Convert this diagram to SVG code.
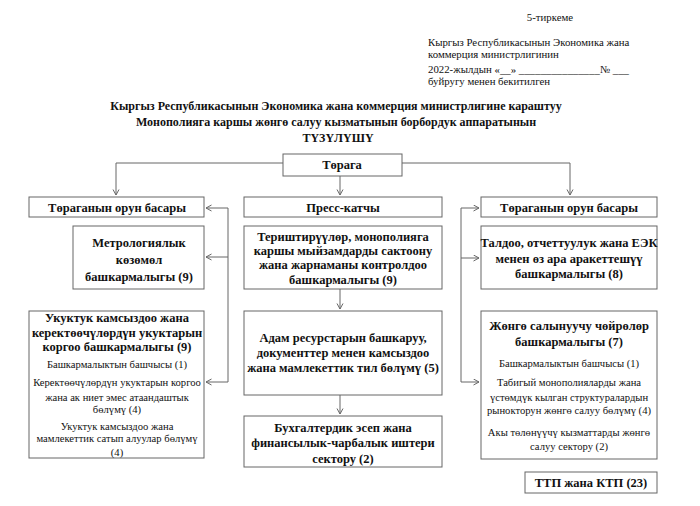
<svg xmlns="http://www.w3.org/2000/svg" width="700" height="506" viewBox="0 0 700 506">
<style>
text{font-family:"Liberation Serif","Times New Roman",serif;fill:#111}
.b{font-weight:bold;font-size:12.5px;text-anchor:middle}
.r{font-size:10.6px;text-anchor:middle}
.h{font-size:10.8px}
.t{font-weight:bold;font-size:12px;text-anchor:middle}
.box{fill:#fff;stroke:#666;stroke-width:1}
.c{fill:none;stroke:#666;stroke-width:1}
</style>
<defs>
<marker id="a" markerUnits="userSpaceOnUse" markerWidth="8" markerHeight="8" refX="6" refY="3.5" orient="auto">
<path d="M0.5,0.5 L6,3.5 L0.5,6.5" fill="none" stroke="#666" stroke-width="1"/>
</marker>
</defs>
<rect width="700" height="506" fill="#fff"/>
<g id="header">
<text class="h" x="550" y="21" text-anchor="middle">5-тиркеме</text>
<text class="h" x="428" y="46">Кыргыз Республикасынын Экономика жана</text>
<text class="h" x="428" y="58">коммерция министрлигинин</text>
<text class="h" x="428" y="73">2022-жылдын «__» _______________№ ___</text>
<text class="h" x="428" y="85">буйругу менен бекитилген</text>
<text class="t" x="336" y="110">Кыргыз Республикасынын Экономика жана коммерция министрлигине караштуу</text>
<text class="t" x="336" y="126">Монополияга каршы жөнгө салуу кызматынын борбордук аппаратынын</text>
<text class="t" x="338" y="142">ТҮЗҮЛҮШҮ</text>
</g>
<g id="connectors">
<path class="c" d="M283,163 H116 V195" marker-end="url(#a)"/>
<path class="c" d="M402,163 H570 V195" marker-end="url(#a)"/>
<path class="c" d="M340,176 V195" marker-end="url(#a)"/>
<path class="c" d="M340,289 V309" marker-end="url(#a)"/>
<path class="c" d="M340,395 V414" marker-end="url(#a)"/>
<path class="c" d="M228,208 V382"/>
<path class="c" d="M228,208 H206" marker-end="url(#a)"/>
<path class="c" d="M228,257 H206" marker-end="url(#a)"/>
<path class="c" d="M228,382 H206" marker-end="url(#a)"/>
<path class="c" d="M461,208 V382"/>
<path class="c" d="M461,208 H479" marker-end="url(#a)"/>
<path class="c" d="M461,258 H479" marker-end="url(#a)"/>
<path class="c" d="M461,382 H479" marker-end="url(#a)"/>
</g>
<g id="toraga">
<rect class="box" x="283" y="154" width="119" height="22"/>
<text class="b" x="342" y="169">Төрага</text>
</g>
<g id="orun-basar-left">
<rect class="box" x="29" y="197" width="175" height="20"/>
<text class="b" x="117" y="212">Төраганын орун басары</text>
</g>
<g id="press">
<rect class="box" x="244" y="197" width="198" height="20"/>
<text class="b" x="343" y="212">Пресс-катчы</text>
</g>
<g id="orun-basar-right">
<rect class="box" x="481" y="197" width="176" height="20"/>
<text class="b" x="569" y="212">Төраганын орун басары</text>
</g>
<g id="metrology">
<rect class="box" x="73" y="226" width="131" height="63"/>
<text class="b" x="139" y="247">Метрологиялык</text>
<text class="b" x="139" y="264">көзөмөл</text>
<text class="b" x="139" y="281">башкармалыгы (9)</text>
</g>
<g id="teristiruu">
<rect class="box" x="244" y="226" width="198" height="63"/>
<text class="b" x="343" y="241">Териштирүүлөр, монополияга</text>
<text class="b" x="343" y="255">каршы мыйзамдарды сактоону</text>
<text class="b" x="343" y="269">жана жарнаманы контролдоо</text>
<text class="b" x="343" y="284">башкармалыгы (9)</text>
</g>
<g id="taldoo">
<rect class="box" x="481" y="226" width="176" height="63"/>
<text class="b" x="569" y="247">Талдоо, отчеттуулук жана ЕЭК</text>
<text class="b" x="569" y="263">менен өз ара аракеттешүү</text>
<text class="b" x="569" y="278">башкармалыгы (8)</text>
</g>
<g id="ukuktuk">
<rect class="box" x="29" y="311" width="175" height="147"/>
<text class="b" x="117" y="322">Укуктук камсыздоо жана</text>
<text class="b" x="117" y="337">керектөөчүлөрдүн укуктарын</text>
<text class="b" x="117" y="351">коргоо башкармалыгы (9)</text>
<text class="r" x="117" y="368">Башкармалыктын башчысы (1)</text>
<text class="r" x="117" y="386">Керектөөчүлөрдүн укуктарын коргоо</text>
<text class="r" x="117" y="401">жана ак ниет эмес атаандаштык</text>
<text class="r" x="117" y="413">бөлүмү (4)</text>
<text class="r" x="117" y="430">Укуктук камсыздоо жана</text>
<text class="r" x="117" y="442">мамлекеттик сатып алуулар бөлүмү</text>
<text class="r" x="117" y="456">(4)</text>
</g>
<g id="adam">
<rect class="box" x="244" y="311" width="198" height="84"/>
<text class="b" x="343" y="342">Адам ресурстарын башкаруу,</text>
<text class="b" x="343" y="357">документтер менен камсыздоо</text>
<text class="b" x="343" y="372">жана мамлекеттик тил бөлүмү (5)</text>
</g>
<g id="jonge">
<rect class="box" x="481" y="311" width="176" height="148"/>
<text class="b" x="569" y="330">Жөнгө салынуучу чөйрөлөр</text>
<text class="b" x="569" y="346">башкармалыгы (7)</text>
<text class="r" x="569" y="367">Башкармалыктын башчысы (1)</text>
<text class="r" x="569" y="386">Табигый монополияларды жана</text>
<text class="r" x="569" y="401">үстөмдүк кылган структуралардын</text>
<text class="r" x="569" y="414">рынокторун жөнгө салуу бөлүмү (4)</text>
<text class="r" x="569" y="436">Акы төлөнүүчү кызматтарды жөнгө</text>
<text class="r" x="569" y="450">салуу сектору (2)</text>
</g>
<g id="buhgalter">
<rect class="box" x="244" y="416" width="198" height="51"/>
<text class="b" x="343" y="432">Бухгалтердик эсеп жана</text>
<text class="b" x="343" y="447">финансылык-чарбалык иштери</text>
<text class="b" x="343" y="463">сектору (2)</text>
</g>
<g id="ttp">
<rect class="box" x="525" y="472" width="132" height="21"/>
<text class="b" x="591" y="487">ТТП жана КТП (23)</text>
</g>
</svg>
